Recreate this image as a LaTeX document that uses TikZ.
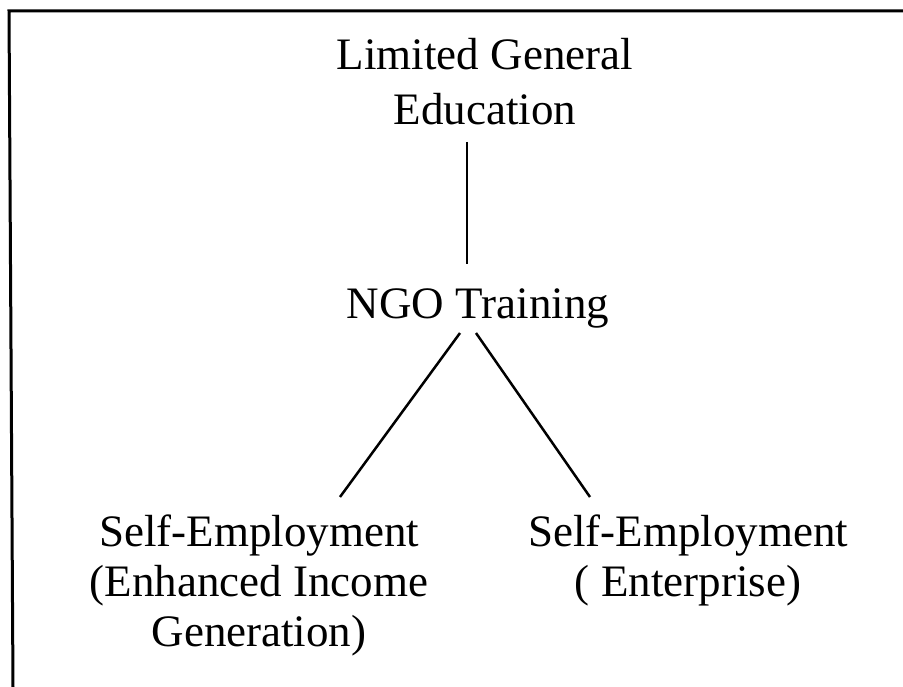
\documentclass[tikz,border=0pt]{standalone}
\usepackage{fontspec}
\setmainfont{Liberation Serif}
\newcommand\mystack[1]{\begin{tabular}[t]{@{}c@{}}#1\end{tabular}}
\begin{document}
\begin{tikzpicture}[x=1pt,y=-1pt,
  lbl/.style={inner sep=0pt,anchor=base,font=\fontsize{45}{50}\selectfont},
  conn/.style={line width=2.5pt},
  frame/.style={line width=3pt}]
\useasboundingbox (0,0) rectangle (903,687);
\fill[white] (0,0) rectangle (903,687);
% frame (top and left sides only)
\coordinate (ftr) at (903,11);
\coordinate (ftl) at (9,11);
\coordinate (fbl) at (13,687);
\draw[frame] (ftr) -- (ftl) -- (fbl);
% nodes
\node[lbl] (edu) at (485,70) {\mystack{Limited General\\[5pt]Education}};
\node[lbl] (ngo) at (478,319) {NGO Training};
\node[lbl] (inc) at (259,546) {\mystack{Self-Employment\\(Enhanced Income\\Generation)}};
\node[lbl] (ent) at (688,546) {\mystack{Self-Employment\\( Enterprise)}};
% connector ends
\coordinate (a1) at (467,142);
\coordinate (a2) at (467,264);
\coordinate (b1) at (460,333);
\coordinate (b2) at (340,497);
\coordinate (c1) at (476,333);
\coordinate (c2) at (590,497);
\draw[conn] (a1) -- (a2);
\draw[conn] (b1) -- (b2);
\draw[conn] (c1) -- (c2);
\end{tikzpicture}
\end{document}
